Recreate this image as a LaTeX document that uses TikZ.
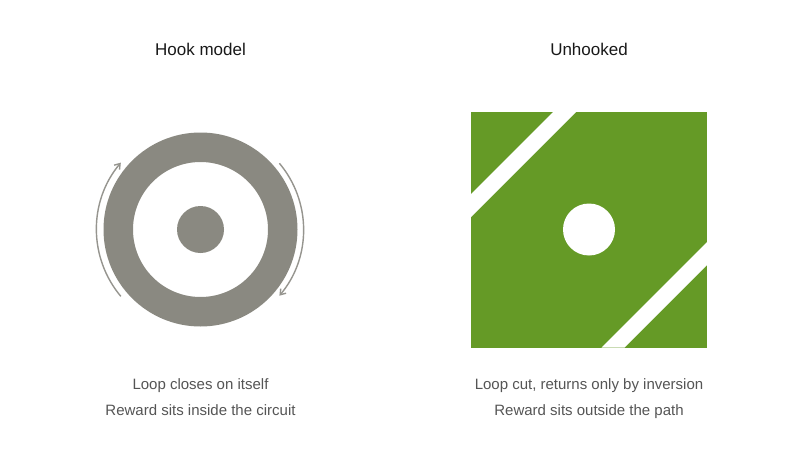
\documentclass[tikz,border=0pt]{standalone}
\usepackage{fontspec}
\setmainfont{Liberation Sans}
\usepackage{xcolor}
\usetikzlibrary{arrows.meta}
\definecolor{ringgray}{RGB}{138,137,129}
\definecolor{arrowgray}{RGB}{150,149,143}
\definecolor{cutgreen}{RGB}{101,154,38}
\definecolor{captiongray}{RGB}{85,85,85}
\tikzset{every scope/.style={>={Straight Barb[length=5pt,width=7pt]}}}
\tikzstyle{panel_title} =
  [ anchor=base
  , inner sep=0pt
  , text=black!90
  , font=\fontsize{17}{20}\selectfont
  ]
\tikzstyle{caption} =
  [ anchor=base
  , inner sep=0pt
  , text=captiongray
  , font=\fontsize{15}{18}\selectfont
  ]
\tikzstyle{loop_arrow} =
  [ arrowgray
  , line width=1.4pt
  ]
\begin{document}
\begin{tikzpicture}[x=1pt,y=-1pt]
    \fill[white] (0,0) rectangle (801,471);
    \useasboundingbox (0,0) rectangle (801,471);

    \coordinate (hook)   at (200.5,229.5);
    \coordinate (unhook) at (589,229.5);

    % Titles
    \node[panel_title] (hook_title)   at (200.5,55) {Hook model};
    \node[panel_title] (unhook_title) at (589,55)   {Unhooked};

    % Hook model: closed ring with reward inside
    \fill[ringgray, even odd rule] (hook) circle[radius=97] (hook) circle[radius=67.5];
    \fill[ringgray] (hook) circle[radius=23.5];
    \begin{scope}
      \draw[loop_arrow,->] (hook) ++(140:104) arc[start angle=140, end angle=220, radius=104];
      \draw[loop_arrow,->] (hook) ++(-40:103) arc[start angle=-40, end angle=40, radius=103];
    \end{scope}

    % Unhooked: square cut by two bands, reward outside
    \begin{scope}[shift={(unhook)}]
      \fill[cutgreen] (-118,-118) rectangle (118,118);
      \fill[white] (-35.5,-118) -- (-12.5,-118) -- (-118,-12.5) -- (-118,-35.5) -- cycle;
      \fill[white] (118,12.5) -- (118,35.5) -- (35.5,118) -- (12.5,118) -- cycle;
      \fill[white] (0,0) circle[radius=26];
    \end{scope}

    % Captions
    \node[caption] (hook_line_a)   at (200.5,389) {Loop closes on itself};
    \node[caption] (hook_line_b)   at (200.5,415) {Reward sits inside the circuit};
    \node[caption] (unhook_line_a) at (589,389)   {Loop cut, returns only by inversion};
    \node[caption] (unhook_line_b) at (589,415)   {Reward sits outside the path};
\end{tikzpicture}
\end{document}
